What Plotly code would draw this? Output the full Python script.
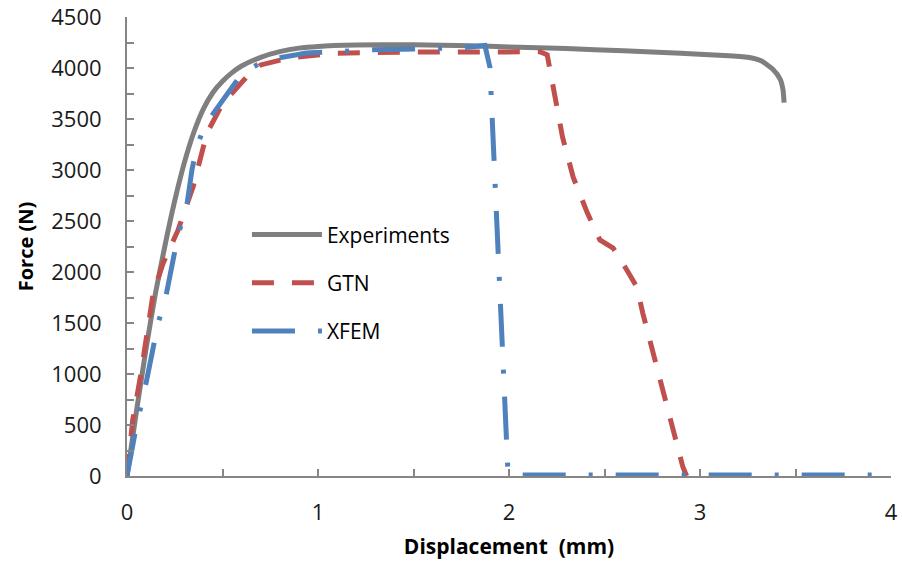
import plotly.graph_objects as go

# Experiments
exp_x = [0, 0.05, 0.1, 0.15, 0.2, 0.25, 0.3, 0.35, 0.4, 0.45, 0.5, 0.55, 0.6, 0.7, 0.8, 0.9, 1.0, 1.2,
         1.5, 1.8, 2.0, 2.3, 2.6, 2.9, 3.1, 3.25, 3.32, 3.38, 3.42, 3.435, 3.44]
exp_y = [0, 640, 1250, 1800, 2270, 2700, 3070, 3370, 3600, 3760, 3870, 3955, 4020, 4105, 4160, 4195, 4212, 4225,
         4228, 4218, 4207, 4190, 4168, 4145, 4125, 4105, 4070, 3990, 3890, 3780, 3660]

# GTN
gtn_x = [0, 0.03, 0.07, 0.1, 0.137, 0.19, 0.267, 0.347, 0.365, 0.418, 0.5, 0.635, 0.7, 0.84, 1.08, 1.5,
         1.95, 2.16, 2.2, 2.23, 2.28, 2.336, 2.41, 2.476, 2.545, 2.617, 2.67, 2.70, 2.754, 2.80, 2.86, 2.91, 2.93]
gtn_y = [0, 550, 970, 1330, 1790, 2090, 2410, 2840, 2970, 3360, 3650, 3930, 4030, 4095, 4145, 4157,
         4157, 4160, 4130, 3840, 3325, 2930, 2580, 2314, 2235, 2020, 1850, 1600, 1206, 873, 480, 90, 0]

# XFEM
xfem_x = [0, 0.042, 0.103, 0.137, 0.163, 0.2, 0.242, 0.267, 0.312, 0.34, 0.365, 0.408, 0.54, 0.607, 0.733,
          0.94, 1.06, 1.257, 1.74, 1.874, 1.90, 1.91, 1.94, 1.97, 1.995, 2.1, 3.0, 4.0]
xfem_y = [0, 420, 940, 1266, 1500, 1725, 2118, 2363, 2637, 3000, 3226, 3441, 3784, 3961, 4078,
          4147, 4157, 4177, 4196, 4220, 4010, 3600, 2200, 900, 10, 10, 10, 10]

fig = go.Figure()
fig.add_trace(go.Scatter(x=exp_x, y=exp_y, mode="lines", name="Experiments", legendgroup="a",
                         line=dict(color="#7F7F7F", width=5, shape="spline", smoothing=0.6)))
fig.add_trace(go.Scatter(x=gtn_x, y=gtn_y, mode="lines", name="GTN", legendgroup="b",
                         line=dict(color="#C0504D", width=5, dash="22px,18px")))
fig.add_trace(go.Scatter(x=xfem_x, y=xfem_y, mode="lines", name="XFEM", legendgroup="c",
                         line=dict(color="#4F81BD", width=5, dash="43px,23px,4px,23px")))

axis_common = dict(showgrid=False, zeroline=False, showline=True, linecolor="#868686", linewidth=2,
                   ticks="inside", ticklen=7, tickcolor="#868686", tickwidth=1.5, automargin=False,
                   tickfont=dict(family="Open Sans", size=22, color="#1a1a1a"))

fig.update_xaxes(range=[0, 4], dtick=1, tick0=0,
                 minor=dict(dtick=0.5, ticks="inside", ticklen=7, tickcolor="#868686", tickwidth=1.5),
                 title=dict(text="<b>Displacement  (mm)</b>", font=dict(family="Open Sans", size=21, color="#000"),
                            standoff=14),
                 ticklabelstandoff=16, **axis_common)
fig.update_yaxes(range=[0, 4500], dtick=500, tick0=0,
                 minor=dict(dtick=250, ticks="inside", ticklen=7, tickcolor="#868686", tickwidth=1.5),
                 title=dict(text="<b>Force (N)</b>", font=dict(family="Open Sans", size=20, color="#000"),
                            standoff=12),
                 ticklabelstandoff=19, **axis_common)

fig.update_layout(
    width=902, height=572,
    margin=dict(l=127, r=11, t=17, b=96),
    plot_bgcolor="white", paper_bgcolor="white",
    legend=dict(x=0.157, y=0.57, xanchor="left", yanchor="top",
                bgcolor="rgba(0,0,0,0)", itemwidth=70, tracegroupgap=18,
                font=dict(family="Open Sans", size=21, color="#000")),
)

fig.write_html("out.html")
